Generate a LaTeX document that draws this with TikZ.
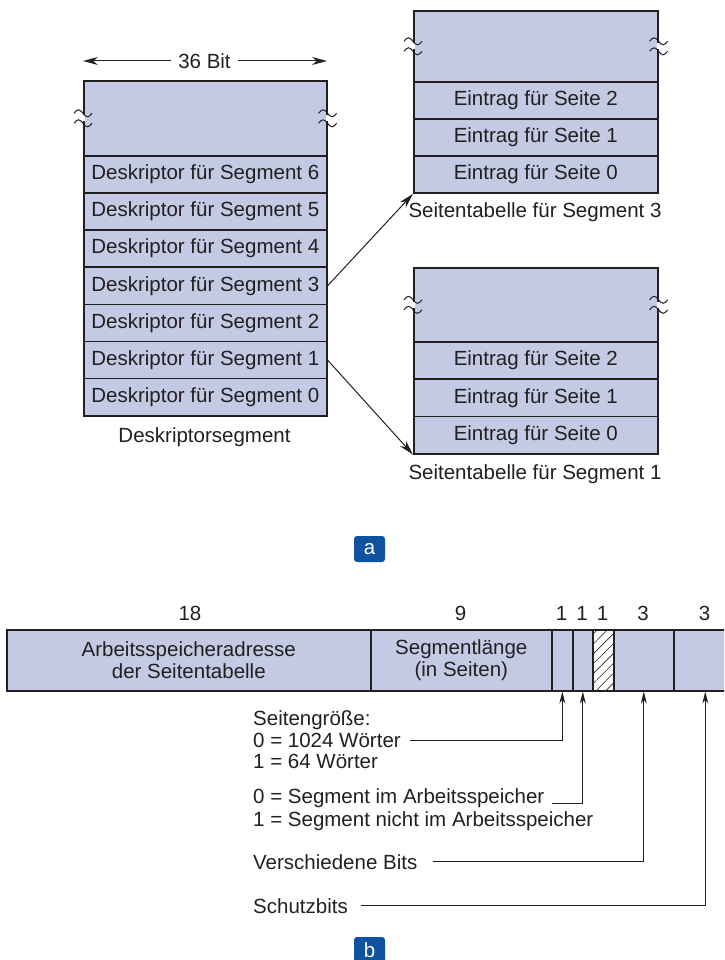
\documentclass[tikz,border=0pt]{standalone}
\usepackage{fontspec}
\setmainfont{Liberation Sans}
\usetikzlibrary{arrows.meta,patterns.meta}

\definecolor{cellfill}{RGB}{197,202,228}
\definecolor{ink}{RGB}{35,31,32}
\definecolor{tagblue}{RGB}{14,82,160}

\tikzset{
  every node/.style={font=\fontsize{20.5}{22}\selectfont, text=ink},
  cell/.style={draw=ink, line width=1.6pt, fill=cellfill, anchor=north west,
               inner sep=0pt, align=center},
  lbl/.style={inner sep=0pt},
  tag/.style={fill=tagblue, text=white, rounded corners=3pt, minimum width=31pt,
              minimum height=26pt, inner sep=0pt},
  ptr/.style={draw=ink, line width=1pt, -{Stealth[length=15pt,width=8pt]}},
  upptr/.style={draw=ink, line width=0.9pt, -{Stealth[length=12pt,width=6pt]}},
  brk/.pic={
    \fill[white] (-1.8,-3) rectangle (1.8,3);
    \draw[ink, line width=1pt] (-9,-5) sin (-4.5,-8.5) cos (0,-5) sin (4.5,-1.5) cos (9,-5);
    \draw[ink, line width=1pt] (-9,5) sin (-4.5,1.5) cos (0,5) sin (4.5,8.5) cos (9,5);
  }
}

\begin{document}
\begin{tikzpicture}[x=1pt,y=-1pt]
\useasboundingbox (0,0) rectangle (724,960);
\clip (0,0) rectangle (724,960);

% ---------- (a) descriptor segment ----------
\node[cell, minimum width=243pt, minimum height=75pt] (topD) at (83,80) {};
\foreach \i in {0,...,6} {
  \pgfmathtruncatemacro\s{6-\i}
  \node[cell, minimum width=243pt, minimum height=37.14pt] (d\s) at (83,155+37.14*\i)
    {Deskriptor für Segment \s};
}
\pic at (topD.west) {brk};
\pic at (topD.east) {brk};

\node[lbl, inner sep=7pt] (bits) at (204.5,61) {36 Bit};
\coordinate (wl) at (83,61);
\coordinate (wr) at (327,61);
\draw[ptr] (bits.west) -- (wl);
\draw[ptr] (bits.east) -- (wr);

\node[lbl] (capD) at (204.5,437) {Deskriptorsegment};

% ---------- (a) page table for segment 3 ----------
\node[cell, minimum width=244pt, minimum height=71pt] (p3top) at (413,10) {};
\foreach \i in {0,1,2} {
  \pgfmathtruncatemacro\s{2-\i}
  \node[cell, minimum width=244pt, minimum height=37.1pt] (p3r\s) at (413,81+37.1*\i)
    {Eintrag für Seite \s};
}
\pic at (p3top.west) {brk};
\pic at (p3top.east) {brk};
\node[lbl] (capP3) at (535,212) {Seitentabelle für Segment 3};

% ---------- (a) page table for segment 1 ----------
\node[cell, minimum width=244pt, minimum height=74pt] (p1top) at (413,267) {};
\foreach \i in {0,1,2} {
  \pgfmathtruncatemacro\s{2-\i}
  \node[cell, minimum width=244pt, minimum height=37.33pt] (p1r\s) at (413,341+37.33*\i)
    {Eintrag für Seite \s};
}
\pic at (p1top.west) {brk};
\pic at (p1top.east) {brk};
\node[lbl] (capP1) at (535,474) {Seitentabelle für Segment 1};

% pointers from descriptors to page tables
\draw[ptr] (d3.east) -- (p3r0.south west);
\draw[ptr] (d1.east) -- (p1r0.south west);

\node[tag] (taga) at (369.5,549) {a};

% ---------- (b) descriptor word layout ----------
\node[cell, minimum width=364pt, minimum height=61pt] (f18) at (6,629)
  {Arbeitsspeicheradresse\\der Seitentabelle};
\node[cell, minimum width=181pt, minimum height=61pt] (f9) at (370,629)
  {Segmentlänge\\(in Seiten)};
\node[cell, minimum width=21pt, minimum height=61pt] (fa) at (551,629) {};
\node[cell, minimum width=20pt, minimum height=61pt] (fb) at (572,629) {};
\node[cell, minimum width=21pt, minimum height=61pt, fill=white,
      postaction={pattern={Lines[angle=45,distance=7pt,line width=0.6pt]}, pattern color=ink}]
      (fc) at (592,629) {};
\node[cell, minimum width=60pt, minimum height=61pt] (fd) at (613,629) {};
\node[cell, minimum width=63pt, minimum height=61pt] (fe) at (673,629) {};

% bit counts
\node[lbl] (n18) at (190,613) {18};
\node[lbl] (n9)  at (460.5,613) {9};
\node[lbl] (n1a) at (561.5,613) {1};
\node[lbl] (n1b) at (582,613) {1};
\node[lbl] (n1c) at (602.5,613) {1};
\node[lbl] (n3a) at (643,613) {3};
\node[lbl] (n3b) at (704.5,613) {3};

% field descriptions
\node[lbl, anchor=base west] (tps)  at (253,725) {Seitengröße:};
\node[lbl, anchor=base west] (t1k)  at (253,747) {0 = 1024 Wörter};
\node[lbl, anchor=base west] (t64)  at (253,768) {1 = 64 Wörter};
\node[lbl, anchor=base west] (sin)  at (253,803) {0 = Segment im Arbeitsspeicher};
\node[lbl, anchor=base west] (snot) at (253,826) {1 = Segment nicht im Arbeitsspeicher};
\node[lbl, anchor=base west] (vb)   at (253,869) {Verschiedene Bits};
\node[lbl, anchor=base west] (sb)   at (253,913) {Schutzbits};

\draw[upptr] ([xshift=9pt]t1k.east) -| (fa.south);
\draw[upptr] ([xshift=7pt]sin.base east) -| (fb.south);
\draw[upptr] ([xshift=15pt]vb.east) -| (fd.south);
\draw[upptr] ([xshift=13pt]sb.east) -| (fe.south);

\node[tag] (tagb) at (369.5,950) {b};
\end{tikzpicture}
\end{document}
